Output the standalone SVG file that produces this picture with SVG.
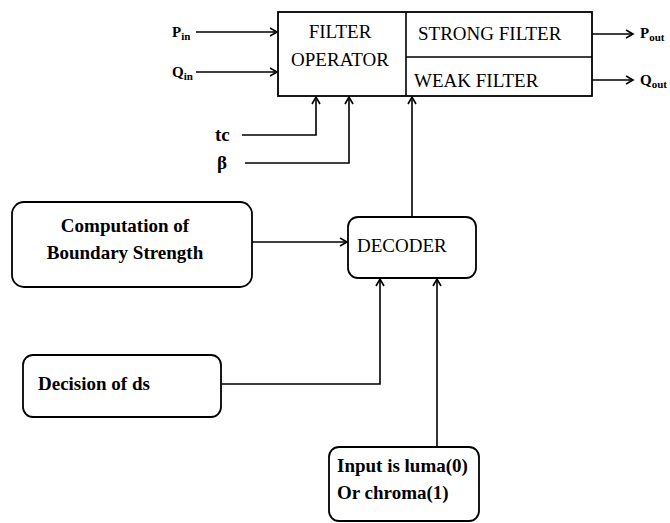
<svg xmlns="http://www.w3.org/2000/svg" width="670" height="523" viewBox="0 0 670 523" font-family="Liberation Serif, DejaVu Serif, serif">
<defs>
<marker id="ah" markerWidth="10" markerHeight="10" refX="8" refY="5" orient="auto" markerUnits="userSpaceOnUse">
<path d="M1,1 L8,5 L1,9" fill="none" stroke="#000" stroke-width="1.6"/>
</marker>
<style>
.box{fill:#fff;stroke:#000;stroke-width:1.8}
.ln{fill:none;stroke:#000;stroke-width:1.6}
.t{font-size:19px;fill:#000}
.b{font-weight:bold}
.lbl{font-size:15px;font-weight:bold;fill:#000}
.s{font-size:11px}
</style>
</defs>
<rect width="670" height="523" fill="#fff"/>
<g id="connectors">
<path class="ln" d="M196,32 H277" marker-end="url(#ah)"/>
<path class="ln" d="M196,72 H277" marker-end="url(#ah)"/>
<path class="ln" d="M242,135 H316 V97" marker-end="url(#ah)"/>
<path class="ln" d="M245,163 H349 V97" marker-end="url(#ah)"/>
<path class="ln" d="M412,217 V97" marker-end="url(#ah)"/>
<path class="ln" d="M592,34 H633" marker-end="url(#ah)"/>
<path class="ln" d="M592,80 H633" marker-end="url(#ah)"/>
<path class="ln" d="M252,242 H347" marker-end="url(#ah)"/>
<path class="ln" d="M221,384 H380 V279" marker-end="url(#ah)"/>
<path class="ln" d="M437,447 V279" marker-end="url(#ah)"/>
</g>
<g id="inputs">
<text class="lbl" x="172" y="37">P<tspan class="s" dy="3">in</tspan></text>
<text class="lbl" x="172" y="77">Q<tspan class="s" dy="3">in</tspan></text>
<text class="t b" x="215" y="141">tc</text>
<text class="t b" x="217" y="169">β</text>
<text class="lbl" x="640" y="38">P<tspan class="s" dy="3">out</tspan></text>
<text class="lbl" x="640" y="85">Q<tspan class="s" dy="3">out</tspan></text>
</g>
<g id="filter">
<rect class="box" x="278" y="12" width="314" height="84"/>
<path class="ln" d="M406,12 V96 M406,57 H592"/>
<text class="t" x="340" y="38" text-anchor="middle">FILTER</text>
<text class="t" x="340" y="66" text-anchor="middle">OPERATOR</text>
<text class="t" x="418" y="40">STRONG FILTER</text>
<text class="t" x="414" y="87">WEAK FILTER</text>
</g>
<g id="computation">
<rect class="box" x="12" y="202" width="240" height="85" rx="12"/>
<text class="t b" x="125" y="232" text-anchor="middle">Computation of</text>
<text class="t b" x="125" y="259" text-anchor="middle">Boundary Strength</text>
</g>
<g id="decoder">
<rect class="box" x="348" y="217" width="128" height="61" rx="10"/>
<text class="t" x="357" y="252">DECODER</text>
</g>
<g id="decision">
<rect class="box" x="23" y="355" width="198" height="62" rx="10"/>
<text class="t b" x="38" y="390">Decision of ds</text>
</g>
<g id="input">
<rect class="box" x="329" y="447" width="150" height="74" rx="10"/>
<text class="t b" x="337" y="472">Input is luma(0)</text>
<text class="t b" x="337" y="499">Or chroma(1)</text>
</g>
</svg>
